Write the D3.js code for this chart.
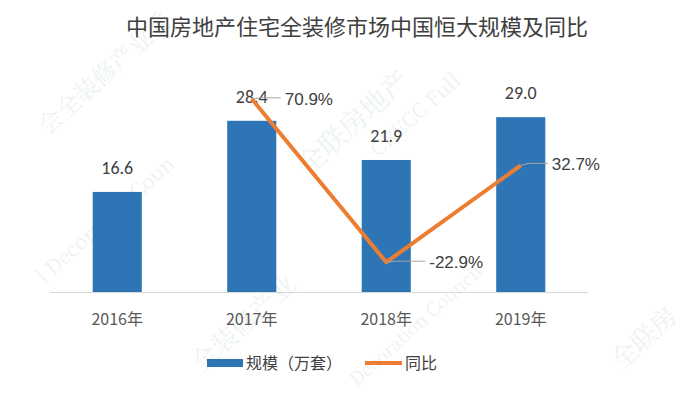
<!DOCTYPE html>
<html>
<head>
<meta charset="utf-8">
<script src="https://cdn.jsdelivr.net/npm/d3@7"></script>
<style>
	body { margin: 0; background: #fff; }
	text { font-family: "Noto Sans CJK SC", "Noto Sans", sans-serif; }
</style>
</head>
<body>
<div id="chart"></div>
<script>
var years = ["2016年", "2017年", "2018年", "2019年"];
var scale = [16.6, 28.4, 21.9, 29.0];          // 规模（万套）
var yoyYears = ["2017年", "2018年", "2019年"];
var yoy = [70.9, -22.9, 32.7];                 // 同比 %

var W = 700, H = 399;
var blue = "#2e75b6", orange = "#ed7d31", txt = "#404040";

var svg = d3.select("#chart").append("svg")
	.attr("width", W)
	.attr("height", H);

// faint watermark
var wm = svg.append("g").attr("fill", "#d6e6de");
[
	{t: "会全装修产业委", x: 110, y: 80, s: 24},
	{t: "l Decoration Coun", x: 110, y: 225, s: 20},
	{t: "全联房地产", x: 360, y: 130, s: 28},
	{t: "CRECC Full", x: 420, y: 120, s: 20},
	{t: "Decoration Council", x: 420, y: 330, s: 18},
	{t: "全装修产业", x: 250, y: 330, s: 26},
	{t: "全联房", x: 650, y: 345, s: 26}
].forEach(function (w) {
	wm.append("text")
		.attr("transform", "translate(" + w.x + "," + w.y + ") rotate(-42)")
		.attr("text-anchor", "middle")
		.attr("font-size", w.s)
		.attr("opacity", 0.45)
		.style("font-family", "\"Noto Serif CJK SC\", \"DejaVu Serif\", serif")
		.text(w.t);
});

var x = d3.scaleBand().domain(years).range([50, 588]).paddingInner(0.635).paddingOuter(0.3175);
var y = d3.scaleLinear().domain([0, 35]).range([292, 81]);
var y2 = d3.scaleLinear().domain([-40, 80]).range([292, 83]);

// title
svg.append("text")
	.attr("x", 357).attr("y", 35)
	.attr("text-anchor", "middle")
	.attr("font-size", 22)
	.attr("fill", txt)
	.text("中国房地产住宅全装修市场中国恒大规模及同比");

// bars
svg.selectAll("rect.bar").data(scale).enter().append("rect")
	.attr("class", "bar")
	.attr("x", function (d, i) { return x(years[i]); })
	.attr("width", x.bandwidth())
	.attr("y", function (d) { return y(d); })
	.attr("height", function (d) { return y(0) - y(d); })
	.attr("fill", blue);

svg.selectAll("text.val").data(scale).enter().append("text")
	.attr("class", "val")
	.attr("x", function (d, i) { return x(years[i]) + x.bandwidth() / 2; })
	.attr("y", function (d) { return y(d) - 18; })
	.attr("text-anchor", "middle")
	.attr("font-size", 18)
	.attr("fill", txt)
	.style("font-family", "Carlito, \"Liberation Sans\", sans-serif")
	.text(function (d) { return d.toFixed(1); });

// x axis
var xAxis = svg.append("g")
	.attr("transform", "translate(0," + y(0) + ")")
	.call(d3.axisBottom(x).tickSize(0).tickPadding(22));
xAxis.select(".domain").attr("stroke", "#d9d9d9").attr("d", "M50,0.5H588");
xAxis.selectAll("text")
	.attr("font-size", 16)
	.attr("fill", "#595959")
	.style("font-family", "\"Noto Sans CJK SC\", sans-serif");

// line
var cx = function (yr) { return x(yr) + x.bandwidth() / 2; };
var line = d3.line()
	.x(function (d, i) { return cx(yoyYears[i]); })
	.y(function (d) { return y2(d); });

svg.append("path")
	.datum(yoy)
	.attr("d", line)
	.attr("fill", "none")
	.attr("stroke", orange)
	.attr("stroke-width", 4)
	.attr("stroke-linejoin", "round");

// percent labels with leader lines
var offs = [{dx: 33, dy: 0}, {dx: 43, dy: 0}, {dx: 31, dy: -1}];
yoy.forEach(function (d, i) {
	var px = cx(yoyYears[i]), py = y2(d);
	var lx = px + offs[i].dx, ly = py + offs[i].dy;
	svg.append("path")
		.attr("d", "M" + px + "," + py + "L" + (px + 8) + "," + (ly - 1) + "L" + (lx - 4) + "," + (ly - 1))
		.attr("fill", "none")
		.attr("stroke", "#a6a6a6")
		.attr("stroke-width", 1);
	svg.append("text")
		.attr("x", lx)
		.attr("y", ly + 6)
		.attr("font-size", 17)
		.attr("fill", txt)
		.style("font-family", "\"Liberation Sans\", Arial, sans-serif")
		.text(d.toFixed(1) + "%");
});

// legend
var lg = svg.append("g").attr("transform", "translate(0,363)");
lg.append("rect").attr("x", 207).attr("y", -4).attr("width", 36).attr("height", 8).attr("fill", blue);
lg.append("text").attr("x", 246).attr("y", 6).attr("font-size", 16).attr("fill", txt).text("规模（万套）");
lg.append("line").attr("x1", 365).attr("x2", 402).attr("y1", 0).attr("y2", 0)
	.attr("stroke", orange).attr("stroke-width", 4);
lg.append("text").attr("x", 405).attr("y", 6).attr("font-size", 16).attr("fill", txt).text("同比");
</script>
</body>
</html>
